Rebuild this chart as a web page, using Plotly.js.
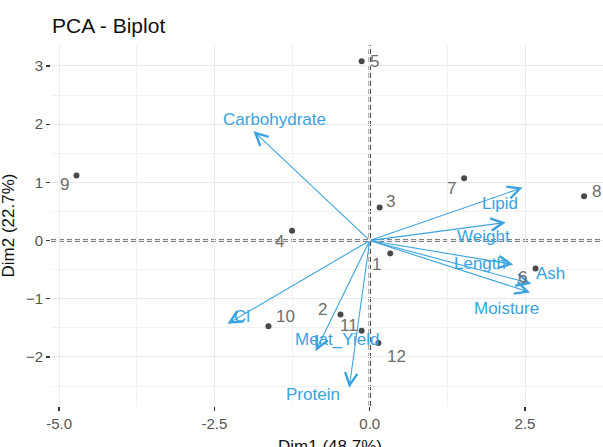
<!DOCTYPE html>
<html>
<head>
<meta charset="utf-8">
<script src="https://cdn.plot.ly/plotly-3.0.1.min.js"></script>
<style>html,body{margin:0;padding:0;background:#fff;}#chart{width:603px;height:447px;}</style>
</head>
<body>
<div id="chart"></div>
<script>
// Individuals (scores)
var indLabels = ["1","2","3","4","5","6","7","8","9","10","11","12"];
var indDim1 = [0.33, -0.47, 0.16, -1.25, -0.13, 2.67, 1.52, 3.45, -4.72, -1.63, -0.13, 0.14];
var indDim2 = [-0.22, -1.27, 0.57, 0.17, 3.08, -0.48, 1.07, 0.76, 1.12, -1.47, -1.55, -1.76];
// Variables (loadings, scaled)
var varLabels = ["Carbohydrate", "Lipid", "Weight", "Length", "Ash", "Moisture", "Meat_Yield", "Protein", "Cl"];
var varDim1 = [-1.87, 2.46, 2.19, 2.31, 2.60, 2.58, -0.87, -0.33, -2.29];
var varDim2 = [1.88, 0.91, 0.31, -0.41, -0.74, -0.89, -1.90, -2.53, -1.43];
// label placement offsets (pixels)
var varLabOff = [[21,12],[-23,-16],[-22,-14],[-33,1],[19,10],[-24,-16],[21,12],[-36,-7],[15,7]];
var indLabOff = [[-14,-11],[-18,5],[11,6],[-13,-11],[13,0],[-13,-9],[-13,-10],[12,5],[-12,-9],[17,10],[-13,5],[18,-13]];
// axis ticks
var xTickVals = [-5, -2.5, 0, 2.5];
var xTickText = ["-5.0", "-2.5", "0.0", "2.5"];
var xMinorVals = [-3.75, -1.25, 1.25, 3.75];
var yTickVals = [-2, -1, 0, 1, 2, 3];
var yMinorVals = [-2.5, -1.5, -0.5, 0.5, 1.5, 2.5];

var FONT = "Liberation Sans, Arial, sans-serif";
var BLUE = "#3AA3DF";

var traces = [{
  type: "scatter", mode: "markers",
  x: indDim1, y: indDim2,
  marker: {color: "#4a4a4a", size: 6},
  hoverinfo: "skip", showlegend: false
}];

var ann = [];
for (var i = 0; i < varLabels.length; i++) {
  ann.push({
    x: varDim1[i], y: varDim2[i], ax: 0, ay: 0,
    xref: "x", yref: "y", axref: "x", ayref: "y",
    text: "", showarrow: true, arrowhead: 5, arrowsize: 2.2, arrowwidth: 1.1,
    arrowcolor: BLUE, standoff: 0, startstandoff: 0
  });
  ann.push({
    x: varDim1[i], y: varDim2[i], xref: "x", yref: "y",
    text: varLabels[i], showarrow: false,
    xshift: varLabOff[i][0], yshift: varLabOff[i][1],
    font: {family: FONT, size: 17, color: BLUE}
  });
}
for (var j = 0; j < indLabels.length; j++) {
  ann.push({
    x: indDim1[j], y: indDim2[j], xref: "x", yref: "y",
    text: indLabels[j], showarrow: false,
    xshift: indLabOff[j][0], yshift: indLabOff[j][1],
    font: {family: FONT, size: 17, color: "#6e6e6e"}
  });
}
ann.push({
  xref: "paper", yref: "paper", x: (330 - 51) / 552, y: 0, yshift: -29,
  xanchor: "center", yanchor: "top",
  text: "Dim1 (48.7%)", showarrow: false,
  font: {family: FONT, size: 17, color: "#111"}
});
ann.push({
  xref: "paper", yref: "paper", x: 0, xshift: -43, y: 0.5,
  xanchor: "center", yanchor: "middle", textangle: -90,
  text: "Dim2 (22.7%)", showarrow: false,
  font: {family: FONT, size: 17, color: "#111"}
});

var layout = {
  width: 603, height: 447,
  margin: {l: 51, r: 0, t: 45, b: 41},
  paper_bgcolor: "#fff", plot_bgcolor: "#fff",
  font: {family: FONT},
  title: {text: "PCA - Biplot", x: 52/603, xanchor: "left", y: 1 - 33/447, yanchor: "bottom",
          font: {family: FONT, size: 21, color: "#111"}},
  xaxis: {
    range: [-5.13, 3.755], tickmode: "array", tickvals: xTickVals, ticktext: xTickText,
    showgrid: true, gridcolor: "#ebebeb", gridwidth: 1,
    minor: {tickmode: "array", tickvals: xMinorVals, showgrid: true, gridcolor: "#f1f1f1", gridwidth: 1, ticks: ""},
    zeroline: false, showline: false,
    ticks: "outside", ticklen: 4, tickwidth: 1.3, tickcolor: "#333",
    tickfont: {family: FONT, size: 15, color: "#555"}
  },
  yaxis: {
    range: [-2.842, 3.36], tickmode: "array", tickvals: yTickVals,
    showgrid: true, gridcolor: "#ebebeb", gridwidth: 1,
    minor: {tickmode: "array", tickvals: yMinorVals, showgrid: true, gridcolor: "#f1f1f1", gridwidth: 1, ticks: ""},
    zeroline: false, showline: false,
    ticks: "outside", ticklen: 4, tickwidth: 1.3, tickcolor: "#333",
    tickfont: {family: FONT, size: 15, color: "#555"}
  },
  shapes: [
    {type: "line", xref: "x", yref: "paper", x0: 0, x1: 0, y0: 0, y1: 1,
     line: {color: "#000", width: 2, dash: "5px,3px"}, layer: "between"},
    {type: "line", xref: "paper", yref: "y", x0: 0, x1: 1, y0: 0, y1: 0,
     line: {color: "#000", width: 2, dash: "5px,3px"}, layer: "between"}
  ],
  annotations: ann,
  showlegend: false
};

Plotly.newPlot("chart", traces, layout, {displayModeBar: false, staticPlot: true});
</script>
</body>
</html>
